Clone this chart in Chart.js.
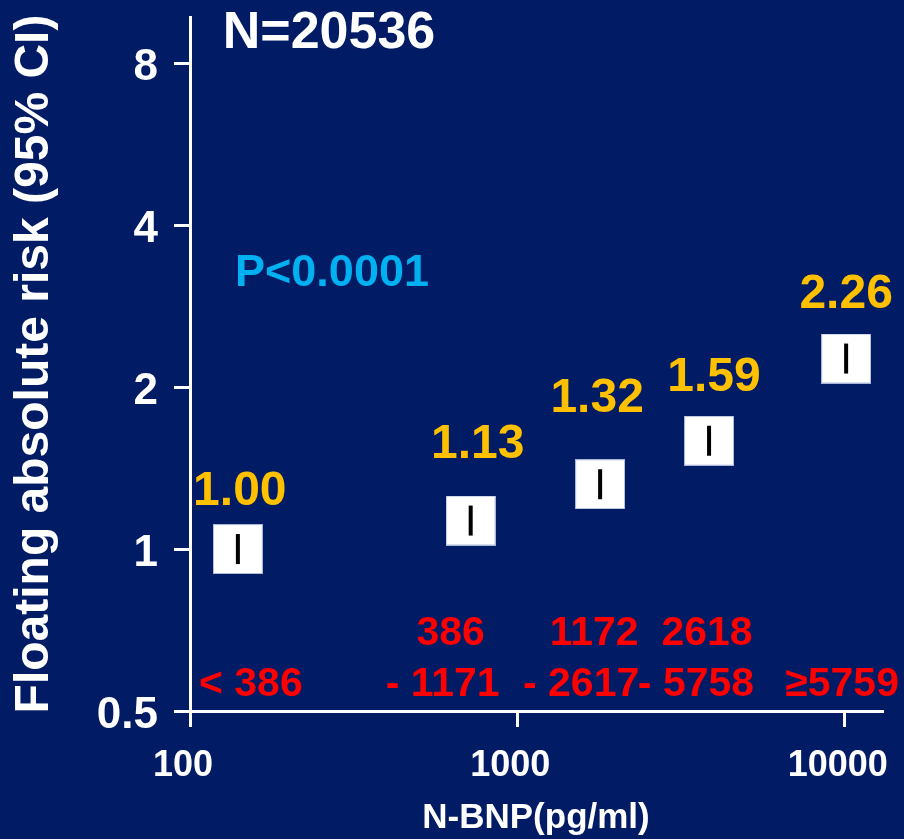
<!DOCTYPE html>
<html>
<head>
<meta charset="utf-8">
<script src="https://cdn.jsdelivr.net/npm/chart.js@4/dist/chart.umd.min.js"></script>
<style>
  html, body { margin: 0; padding: 0; background: #011b64; }
  canvas { display: block; }
</style>
</head>
<body>
<canvas id="c" width="904" height="839"></canvas>
<script>
// ---- data ----
const bnpMidpoints = [140, 720, 1790, 3850, 10100];
const riskValues = [1.00, 1.13, 1.32, 1.59, 2.26];
const rangeTopLines = ['', '386', '1172', '2618', ''];
const rangeBottomLines = ['< 386', '- 1171', '- 2617', '- 5758', '\u22655759'];
const xTickValues = [100, 1000, 10000];
const xTickLabels = ['100', '1000', '10000'];
const yTickValues = [0.5, 1, 2, 4, 8];
const yTickLabels = ['0.5', '1', '2', '4', '8'];
const sampleSizeText = 'N=20536';
const pValueText = 'P<0.0001';
const xAxisTitle = 'N-BNP(pg/ml)';
const yAxisTitle = 'Floating absolute risk (95% CI)';

// ---- styles ----
const BG = '#011b64';
const FONT = '"Liberation Sans", Arial, Helvetica, sans-serif';
const YELLOW = '#ffc000';
const RED = '#ff0000';
const BLUE = '#00b0f0';
const valueLabelDx = [2, 7, -3, 5, 0];
const valueLabelDy = [-57, -76, -85, -63, -64];
const rangeTopDx = [0, -20, -6, -2, 0];
const rangeBottomDx = [13, -28, -19, -13, -4];

// marker: white box with black bar
function makeMarker() {
  const c = document.createElement('canvas');
  c.width = 50; c.height = 50;
  const g = c.getContext('2d');
  g.fillStyle = '#ffffff';
  g.fillRect(0, 0, 50, 50);
  g.strokeStyle = '#aab6d8';
  g.lineWidth = 1;
  g.strokeRect(0.5, 0.5, 49, 49);
  g.fillStyle = '#000000';
  g.fillRect(23, 10, 4, 30);
  return c;
}
const marker = makeMarker();

const bgPlugin = {
  id: 'bg',
  beforeDraw(chart) {
    const ctx = chart.ctx;
    ctx.save();
    ctx.fillStyle = BG;
    ctx.fillRect(0, 0, chart.width, chart.height);
    ctx.restore();
  }
};

const annotPlugin = {
  id: 'annot',
  afterDatasetsDraw(chart) {
    const ctx = chart.ctx;
    const xs = chart.scales.x, ys = chart.scales.y;
    const area = chart.chartArea;
    ctx.save();
    ctx.textAlign = 'center';
    ctx.textBaseline = 'middle';
    // value labels
    ctx.fillStyle = YELLOW;
    ctx.font = 'bold 48px ' + FONT;
    riskValues.forEach((v, i) => {
      const px = xs.getPixelForValue(bnpMidpoints[i]);
      const py = ys.getPixelForValue(v);
      ctx.fillText(v.toFixed(2), px + valueLabelDx[i], py + valueLabelDy[i]);
    });
    // range labels
    ctx.fillStyle = RED;
    ctx.font = 'bold 41px ' + FONT;
    bnpMidpoints.forEach((m, i) => {
      const px = xs.getPixelForValue(m);
      if (rangeTopLines[i]) ctx.fillText(rangeTopLines[i], px + rangeTopDx[i], area.bottom - 77);
      ctx.fillText(rangeBottomLines[i], px + rangeBottomDx[i], area.bottom - 26);
    });
    // N and P
    ctx.fillStyle = '#ffffff';
    ctx.font = 'bold 52px ' + FONT;
    ctx.fillText(sampleSizeText, 329, 34);
    ctx.fillStyle = BLUE;
    ctx.font = 'bold 45px ' + FONT;
    ctx.fillText(pValueText, 332, 274);
    ctx.restore();
  }
};

new Chart(document.getElementById('c'), {
  type: 'scatter',
  data: {
    datasets: [{
      data: bnpMidpoints.map((x, i) => ({ x: x, y: riskValues[i] })),
      pointStyle: marker,
      pointRadius: 1,
      showLine: false,
      clip: false
    }]
  },
  options: {
    responsive: false,
    devicePixelRatio: 1,
    animation: false,
    layout: { autoPadding: false, padding: { top: 17, right: 22, left: 0, bottom: 0 } },
    plugins: { legend: { display: false }, tooltip: { enabled: false } },
    scales: {
      x: {
        type: 'logarithmic',
        min: 100,
        max: 13000,
        afterBuildTicks: s => { s.ticks = xTickValues.map(v => ({ value: v })); },
        afterFit: s => { s.height = 128; s.paddingLeft = 0; s.paddingRight = 0; },
        ticks: {
          autoSkip: false,
          maxRotation: 0,
          padding: 17,
          labelOffset: -7,
          color: '#ffffff',
          font: { family: FONT, size: 36, weight: 'bold' },
          callback: (v, i) => xTickLabels[i]
        },
        grid: { display: true, drawOnChartArea: false, drawTicks: true, tickLength: 16, color: '#ffffff', lineWidth: 3 },
        border: { display: true, color: '#ffffff', width: 3 },
        title: {
          display: true,
          text: xAxisTitle,
          color: '#ffffff',
          font: { family: FONT, size: 35, weight: 'bold' },
          padding: { top: 0, bottom: 0 }
        }
      },
      y: {
        type: 'logarithmic',
        min: 0.5,
        max: 9.75,
        afterBuildTicks: s => { s.ticks = yTickValues.map(v => ({ value: v })); },
        afterFit: s => { s.width = 190; s.paddingTop = 0; s.paddingBottom = 0; },
        ticks: {
          autoSkip: false,
          padding: 16,
          labelOffset: 5,
          color: '#ffffff',
          font: { family: FONT, size: 44, weight: 'bold' },
          callback: (v, i) => yTickLabels[i]
        },
        grid: { display: true, drawOnChartArea: false, drawTicks: true, tickLength: 16, color: '#ffffff', lineWidth: 3 },
        border: { display: true, color: '#ffffff', width: 3 },
        title: {
          display: true,
          text: yAxisTitle,
          color: '#ffffff',
          font: { family: FONT, size: 48, weight: 'bold' },
          padding: { top: 6, bottom: 0 }
        }
      }
    }
  },
  plugins: [bgPlugin, annotPlugin]
});
</script>
</body>
</html>
